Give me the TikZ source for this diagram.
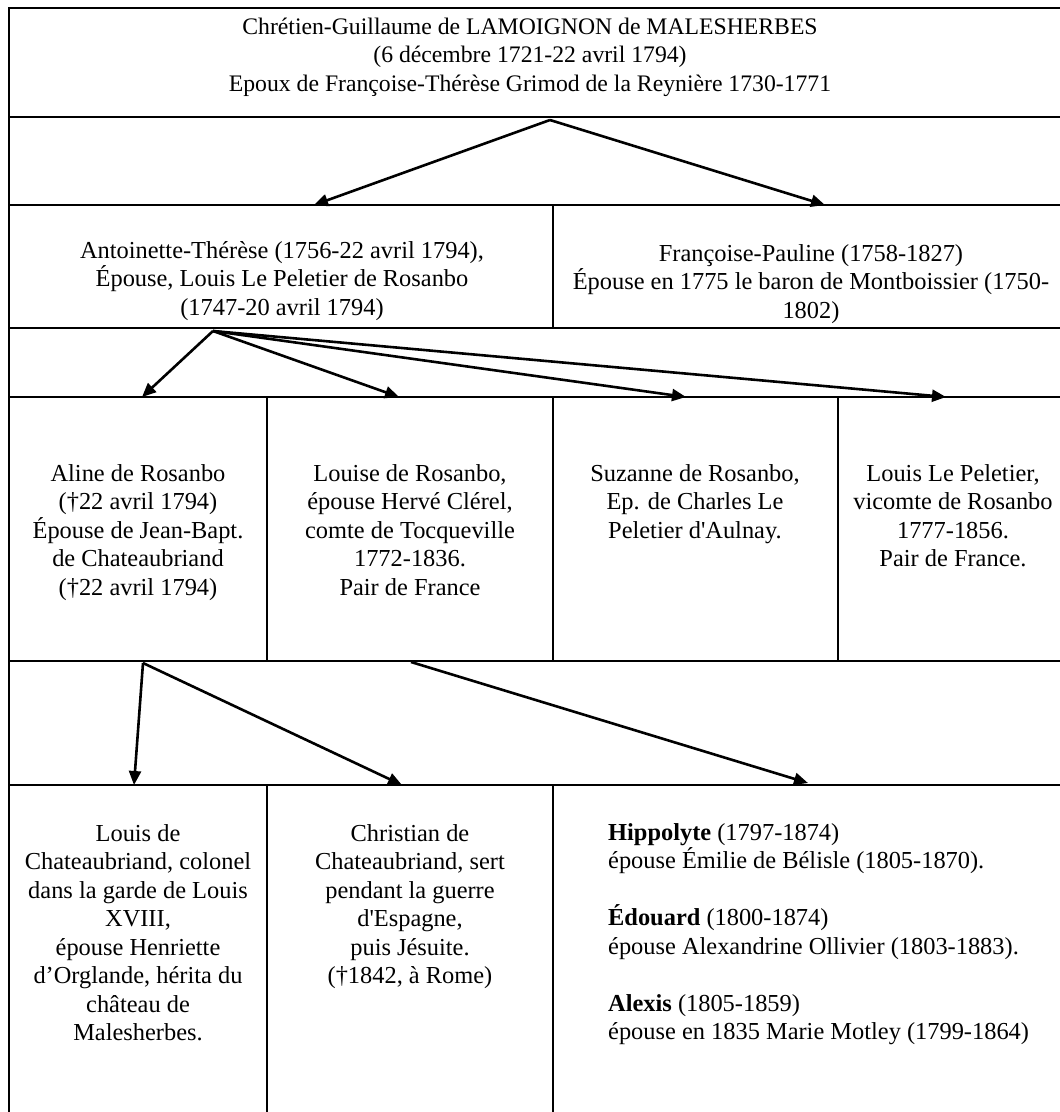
\documentclass[tikz,border=0pt]{standalone}
\usepackage{fontspec}
\setmainfont{Liberation Serif}
\usetikzlibrary{arrows.meta}
\tikzset{
x=1pt, y=-1pt, % one unit per pixel, y pointing down
>={Triangle[length=14pt, width=12pt]}, % filled arrow heads
rule/.style={line width=2.8pt}, % table borders
link/.style={->, line width=2.6pt}, % parent to child arrows
cell/.style={anchor=north, align=center, inner sep=0pt,
  font=\fontsize{24.4}{28.5}\selectfont,
  execute at begin node=\rule{0pt}{25pt}}, % tall first line
}

\begin{document}
\begin{tikzpicture}
    \useasboundingbox[fill=white] (0,0) rectangle (1060,1112);

    % table
    \draw[rule] (1062,8) -- (9,8) -- (9,1114);
    \foreach \y in {117,205,328,397,661,785}
        \draw[rule] (9,\y) -- (1062,\y);
    \draw[rule] (553,205) -- (553,328);
    \foreach \x in {267,553,838}
        \draw[rule] (\x,397) -- (\x,661);
    \foreach \x in {267,553}
        \draw[rule] (\x,785) -- (\x,1114);

    % people
    \node[cell, font=\fontsize{23.7}{28.5}\selectfont] (malesherbes) at (530,17.5)
        {Chrétien-Guillaume de LAMOIGNON de MALESHERBES\\
        (6 décembre 1721-22 avril 1794)\\
        Epoux de Françoise-Thérèse Grimod de la Reynière 1730-1771};

    \node[cell] (antoinette) at (282,241) {Antoinette-Thérèse (1756-22 avril 1794),\\
        Épouse, Louis Le Peletier de Rosanbo\\ (1747-20 avril 1794)};
    \node[cell] (francoise) at (811,244) {Françoise-Pauline (1758-1827)\\
        Épouse en 1775 le baron de Montboissier (1750-\\ 1802)};

    \node[cell] (aline) at (138,464) {Aline de Rosanbo\\ (†22 avril 1794)\\
        Épouse de Jean-Bapt.\\ de Chateaubriand\\ (†22 avril 1794)};
    \node[cell] (louise) at (410,464) {Louise de Rosanbo,\\ épouse Hervé Clérel,\\
        comte de Tocqueville\\ 1772-1836.\\ Pair de France};
    \node[cell] (suzanne) at (695,464) {Suzanne de Rosanbo,\\ Ep. de Charles Le\\
        Peletier d\textquotesingle Aulnay.};
    \node[cell] (louis) at (953,464) {Louis Le Peletier,\\ vicomte de Rosanbo\\
        1777-1856.\\ Pair de France.};

    \node[cell] (louisch) at (138,824) {Louis de\\ Chateaubriand, colonel\\
        dans la garde de Louis\\ XVIII,\\ épouse Henriette\\
        d’Orglande, hérita du\\ château de\\ Malesherbes.};
    \node[cell] (christian) at (410,824) {Christian de\\ Chateaubriand, sert\\
        pendant la guerre\\ d\textquotesingle Espagne,\\ puis Jésuite.\\ (†1842, à Rome)};
    \node[cell, anchor=north west, align=left] (tocqueville) at (608,823)
        {\textbf{Hippolyte} (1797-1874)\\ épouse Émilie de Bélisle (1805-1870).\\[28.5pt]
        \textbf{Édouard} (1800-1874)\\ épouse Alexandrine Ollivier (1803-1883).\\[28.5pt]
        \textbf{Alexis} (1805-1859)\\ épouse en 1835 Marie Motley (1799-1864)};

    % arrow ends
    \coordinate (m-out) at (550,120);
    \coordinate (an-in) at (314,205);
    \coordinate (fr-in) at (825,205);
    \coordinate (an-out) at (213,331);
    \coordinate (al-in) at (142,397);
    \coordinate (lo-in) at (399,397);
    \coordinate (su-in) at (686,397);
    \coordinate (le-in) at (946,397);
    \coordinate (al-out) at (143,663);
    \coordinate (lo-out) at (411,662);
    \coordinate (lc-in) at (134,785);
    \coordinate (ch-in) at (402,785);
    \coordinate (to-in) at (808,783);

    \path[link]
    (m-out) edge (an-in)
    (m-out) edge (fr-in);

    \path[link]
    (an-out) edge (al-in)
    (an-out) edge (lo-in)
    (an-out) edge (su-in)
    (an-out) edge (le-in);

    \path[link]
    (al-out) edge (lc-in)
    (al-out) edge (ch-in)
    (lo-out) edge (to-in);
\end{tikzpicture}
\end{document}
